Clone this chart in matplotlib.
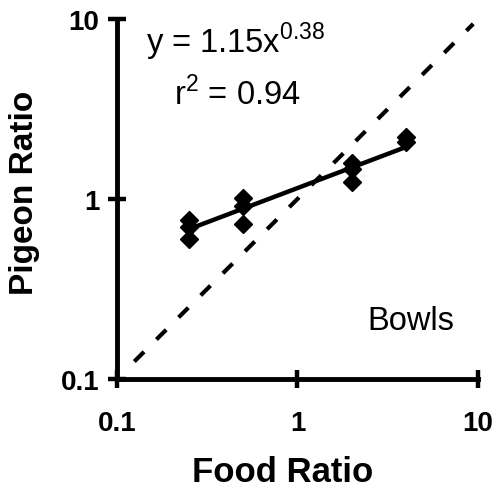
import numpy as np
import matplotlib
matplotlib.use("Agg")
import matplotlib.pyplot as plt

plt.rcParams['font.family'] = ['Liberation Sans', 'DejaVu Sans']

# data
food_ratio = [0.25, 0.25, 0.25, 0.5, 0.5, 0.5, 2, 2, 2, 4, 4]
pigeon_ratio = [0.76, 0.70, 0.60, 1.01, 0.91, 0.73, 1.58, 1.47, 1.24, 2.21, 2.08]
fit_a = 1.15
fit_b = 0.38
fit_x = [0.25, 4]
diag_x = [0.125, 9.4]
tick_vals = [0.1, 1, 10]
tick_labels = ['0.1', '1', '10']

fig = plt.figure(figsize=(4.97, 4.89), dpi=100)
ax = fig.add_axes([0.235, 0.223, 0.727, 0.736])
ax.set_xscale('log')
ax.set_yscale('log')
ax.set_xlim(0.1, 10)
ax.set_ylim(0.1, 10)

ax.plot(diag_x, diag_x, color='black', lw=3, linestyle=(0, (3.3, 4.2)))
fx = np.array(fit_x)
ax.plot(fx, fit_a * fx ** fit_b, color='black', lw=3.2, solid_capstyle='round')
ax.plot(food_ratio, pigeon_ratio, linestyle='none', marker='D', ms=9.5,
        color='black', mec='black')

for s in ['top', 'right']:
    ax.spines[s].set_visible(False)
for s in ['left', 'bottom']:
    ax.spines[s].set_linewidth(3.5)

ax.minorticks_off()
ax.set_xticks(tick_vals)
ax.set_xticklabels(tick_labels)
ax.set_yticks(tick_vals)
ax.set_yticklabels(tick_labels)
ax.tick_params(direction='inout', length=13, width=3.2, labelsize=20)
ax.tick_params(axis='x', pad=16)
ax.tick_params(axis='y', pad=6)
for lab in ax.get_xticklabels() + ax.get_yticklabels():
    lab.set_fontweight('bold')

ax.text(0.46, -0.283, 'Food Ratio', transform=ax.transAxes, fontsize=25,
        fontweight='bold', ha='center', va='baseline')
ax.text(-0.255, 0.52, 'Pigeon Ratio', transform=ax.transAxes, fontsize=24,
        fontweight='bold', ha='center', va='center', rotation=90)

ax.text(0.08, 0.908, r'y = 1.15x$^{\mathregular{0.38}}$', transform=ax.transAxes,
        fontsize=23.5, va='baseline', ha='left')
ax.text(0.158, 0.764, r'r$^{\mathregular{2}}$ = 0.94', transform=ax.transAxes,
        fontsize=23.5, va='baseline', ha='left')
ax.text(0.693, 0.139, 'Bowls', transform=ax.transAxes, fontsize=23.5,
        va='baseline', ha='left')

fig.savefig('out.png', dpi=100)
